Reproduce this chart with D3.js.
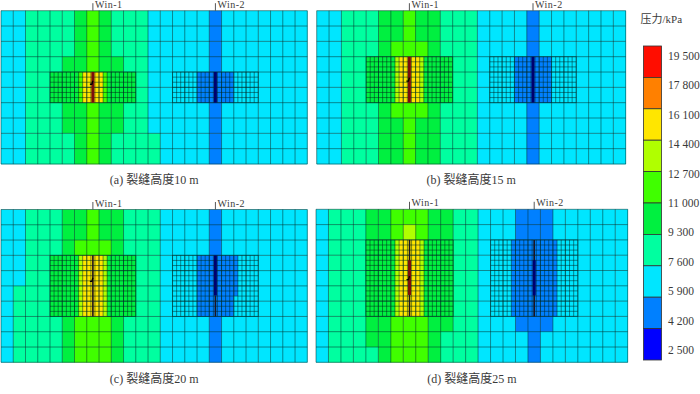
<!DOCTYPE html>
<html>
<head>
<meta charset="utf-8">
<script src="https://cdn.jsdelivr.net/npm/d3@7"></script>
<style>
  html, body { margin: 0; padding: 0; background: #fff; }
  text { font-family: "Liberation Serif", "Noto Sans CJK SC", serif; fill: #3a3a3a; }
</style>
</head>
<body>
<div id="chart"></div>
<script>
const width = 700;
const height = 394;

// pressure bands, low to high
const bandColors = ["#0000ff", "#0080ff", "#00e6ff", "#00ffa0", "#00f040", "#40ff00", "#b0ff00", "#ffe600", "#ff8000", "#ff0a00"];
const tickValues = [19500, 17800, 16100, 14400, 12700, 11000, 9300, 7600, 5900, 4200, 2500];
const captions = ["(a) 裂缝高度10 m", "(b) 裂缝高度15 m", "(c) 裂缝高度20 m", "(d) 裂缝高度25 m"];
const wellNames = ["Win-1", "Win-2"];
const wellCols = [7, 17];
const windowCols = [4, 14];

// coarse grid: 10 rows of 25 cells, one digit = band index
const coarseA = [
  "2233334543332222212222222",
  "2233334543332222212222222",
  "2233334543332222212222222",
  "2233344544332222212222222",
  "2233344544332222212222222",
  "2233344544332222212222222",
  "2233344544332222212222222",
  "2233344544332222212222222",
  "2233334543333222212222222",
  "2233334543333222212222222"
];
const coarseB = [
  "2233344544333222212222222",
  "2233344544333222212222222",
  "2233345554333222212222222",
  "2233345554333222212222222",
  "2233345554333222212222222",
  "2233345554333222212222222",
  "2233345554333222212222222",
  "2233344544333222212222222",
  "2233344544333222212222222",
  "2233344544333222212222222"
];
const coarseC = [
  "2233344544333222212222222",
  "2233344544333222212222222",
  "2233345554333222212222222",
  "2233345554333222212222222",
  "2233345554333222212222222",
  "2333345554333222212222222",
  "2333345554333222212222222",
  "2333345554333222212222222",
  "2333345554333222212222222",
  "2333345554333222212222222"
];
const coarseD = [
  "2333445554433222111222222",
  "2333445654433222111222222",
  "2333445554433222111222222",
  "2333445554433222111222222",
  "2333445554433222111222222",
  "2333445554433222111222222",
  "2333445554433222111222222",
  "2333445554433222111222222",
  "2333445554333222212222222",
  "2333345554333222212222222"
];

// refined windows: first coarse row, then [21 fine cells, how many fine rows]
const fineStartRows = [4, 3, 3, 2];
const fineLeft = [
  [["444444457777754444444", 6]],
  [["444444467777764444444", 9]],
  [["444444467777764444444", 12]],
  [["444444467777764444444", 15]]
];
const fineRight = [
  [["222222111111111222222", 6]],
  [["222222111111111222222", 9]],
  [["222222111111111122222", 8], ["222222111111111222222", 4]],
  [["222221111111111122222", 15]]
];

// fractures: [well, from row, to row, kind]
const fractures = [
  [[0, 4, 6, "red"], [1, 4, 6, "navy"]],
  [[0, 3, 6, "red"], [1, 3, 6, "navy"]],
  [[0, 3, 7, "thin"], [1, 3, 5.63, "navy"], [1, 5.63, 7, "thin"]],
  [[0, 2, 7, "thin"], [0, 3.33, 5.6, "red"], [1, 2, 7, "thin"], [1, 3.33, 5.63, "navy"]]
];
const wellMarkRows = [4.7, 4.5, 4.6, 4.5];

const coarseAll = [coarseA, coarseB, coarseC, coarseD];
const frames = [
  { x0: 1, x1: 307.3, y0: 10.7, y1: 164, capY: 184 },
  { x0: 316.7, x1: 625.7, y0: 10.7, y1: 164, capY: 184 },
  { x0: 1, x1: 307.3, y0: 209.5, y1: 362.3, capY: 382.5 },
  { x0: 316, x1: 627.7, y0: 209.3, y1: 362.3, capY: 382.5 }
];
const fractureStyle = {
  red: { color: "#7c1008", w: 3 },
  navy: { color: "#00006e", w: 3 },
  thin: { color: "#1c1420", w: 1.6 }
};

const svg = d3.select("#chart").append("svg")
  .attr("width", width)
  .attr("height", height)
  .style("display", "block");

// source image is a soft scan, blur a touch
svg.append("defs").append("filter")
  .attr("id", "soft")
  .attr("x", "-2%").attr("y", "-2%").attr("width", "104%").attr("height", "104%")
  .append("feGaussianBlur").attr("stdDeviation", 0.35);

frames.forEach((f, p) => {
  const x = d3.scaleLinear().domain([0, 25]).range([f.x0, f.x1]);
  const y = d3.scaleLinear().domain([0, 10]).range([f.y0, f.y1]);
  const g = svg.append("g").attr("filter", "url(#soft)");

  // coarse cells
  const cells = coarseAll[p].flatMap((row, r) => Array.from(row, (b, c) => ({ r, c, b: +b })));
  g.selectAll("rect.cell").data(cells).enter().append("rect")
    .attr("class", "cell")
    .attr("x", d => x(d.c))
    .attr("y", d => y(d.r))
    .attr("width", x(1) - x(0) + 0.3)
    .attr("height", y(1) - y(0) + 0.3)
    .attr("fill", d => bandColors[d.b]);

  // refined windows
  [fineLeft[p], fineRight[p]].forEach((runs, w) => {
    const rows = runs.flatMap(([s, n]) => d3.range(n).map(() => s));
    const startCol = windowCols[w];
    const startRow = fineStartRows[p];
    const fine = rows.flatMap((row, r) => Array.from(row, (b, c) => ({ r, c, b: +b })));
    g.selectAll(`rect.fine${w}`).data(fine).enter().append("rect")
      .attr("class", `fine${w}`)
      .attr("x", d => x(startCol + d.c / 3))
      .attr("y", d => y(startRow + d.r / 3))
      .attr("width", (x(1) - x(0)) / 3 + 0.3)
      .attr("height", (y(1) - y(0)) / 3 + 0.3)
      .attr("fill", d => bandColors[d.b]);

    // fine grid lines
    const rowEnd = startRow + rows.length / 3;
    g.selectAll(`line.fv${w}`).data(d3.range(22)).enter().append("line")
      .attr("class", `fv${w}`)
      .attr("x1", d => x(startCol + d / 3)).attr("x2", d => x(startCol + d / 3))
      .attr("y1", y(startRow)).attr("y2", y(rowEnd))
      .attr("stroke", "#00201c").attr("stroke-opacity", 0.55).attr("stroke-width", 0.9);
    g.selectAll(`line.fh${w}`).data(d3.range(rows.length + 1)).enter().append("line")
      .attr("class", `fh${w}`)
      .attr("x1", x(startCol)).attr("x2", x(startCol + 7))
      .attr("y1", d => y(startRow + d / 3)).attr("y2", d => y(startRow + d / 3))
      .attr("stroke", "#00201c").attr("stroke-opacity", 0.55).attr("stroke-width", 0.9);
  });

  // coarse grid lines
  g.selectAll("line.cv").data(d3.range(26)).enter().append("line")
    .attr("class", "cv")
    .attr("x1", d => x(d)).attr("x2", d => x(d))
    .attr("y1", f.y0).attr("y2", f.y1)
    .attr("stroke", "#00302c").attr("stroke-opacity", 0.52).attr("stroke-width", 1);
  g.selectAll("line.ch").data(d3.range(11)).enter().append("line")
    .attr("class", "ch")
    .attr("x1", f.x0).attr("x2", f.x1)
    .attr("y1", d => y(d)).attr("y2", d => y(d))
    .attr("stroke", "#00302c").attr("stroke-opacity", 0.52).attr("stroke-width", 1);

  // fractures
  fractures[p].forEach(([w, from, to, kind]) => {
    const cx = x(wellCols[w] + 0.5);
    g.append("line")
      .attr("x1", cx).attr("x2", cx)
      .attr("y1", y(from)).attr("y2", y(to))
      .attr("stroke", fractureStyle[kind].color)
      .attr("stroke-width", fractureStyle[kind].w);
  });

  // wellbore mark on Win-1
  const mx = x(wellCols[0] + 0.5);
  const my = y(wellMarkRows[p]);
  g.append("path")
    .attr("d", d3.line()([[mx - 3, my + 1.5], [mx - 1, my + 1.5], [mx, my - 2]]))
    .attr("fill", "none").attr("stroke", "#000").attr("stroke-width", 1.3);

  // well labels
  wellNames.forEach((name, w) => {
    const cx = x(wellCols[w] + 0.5);
    svg.append("line")
      .attr("x1", cx).attr("x2", cx)
      .attr("y1", f.y0).attr("y2", f.y0 - 7.5)
      .attr("stroke", "#444").attr("stroke-width", 0.9);
    svg.append("text")
      .attr("x", cx + 2)
      .attr("y", f.y0 - 3)
      .attr("font-size", 10)
      .attr("letter-spacing", 0.5)
      .text(name);
  });

  svg.append("text")
    .attr("x", (f.x0 + f.x1) / 2)
    .attr("y", f.capY)
    .attr("text-anchor", "middle")
    .attr("font-size", 12)
    .text(captions[p]);
});

// legend
svg.append("text")
  .attr("x", 640.5)
  .attr("y", 23)
  .attr("font-size", 11)
  .text("压力/kPa");

const legendY = d3.scaleBand()
  .domain(d3.range(bandColors.length).reverse())
  .range([46, 360]);

svg.append("g").attr("filter", "url(#soft)")
  .selectAll("rect").data(legendY.domain()).enter().append("rect")
  .attr("x", 643.5)
  .attr("y", d => legendY(d))
  .attr("width", 18)
  .attr("height", legendY.bandwidth())
  .attr("fill", d => bandColors[d])
  .attr("stroke", "#333")
  .attr("stroke-width", 0.8);

const tickY = d3.scaleLinear().domain([19500, 2500]).range([55.7, 350]);
const legendAxis = d3.axisRight(tickY)
  .tickValues(tickValues)
  .tickSize(0)
  .tickPadding(0)
  .tickFormat(d => {
    const s = String(d);
    return s.slice(0, -3) + " " + s.slice(-3);
  });

svg.append("g")
  .attr("transform", "translate(668,0)")
  .call(legendAxis)
  .call(a => a.select(".domain").remove())
  .call(a => a.selectAll("text")
    .attr("font-size", 11.5)
    .attr("font-family", "Liberation Serif")
    .attr("fill", "#3a3a3a"));
</script>
</body>
</html>
